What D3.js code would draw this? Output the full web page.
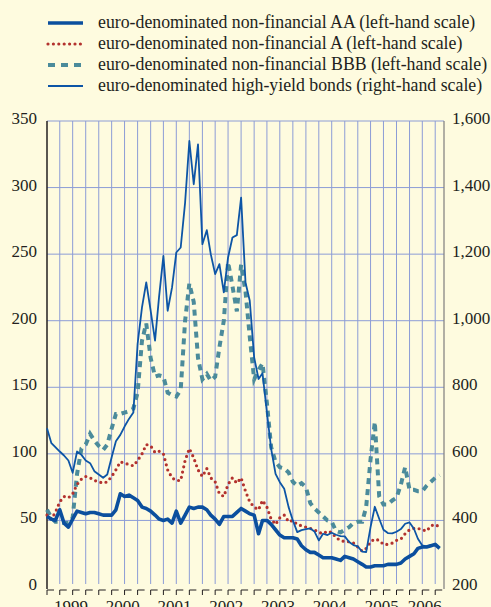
<!DOCTYPE html>
<html>
<head>
<meta charset="utf-8">
<script src="https://cdn.jsdelivr.net/npm/d3@7"></script>
<style>
  html, body { margin: 0; padding: 0; background: #fefbdf; }
  svg { display: block; }
</style>
</head>
<body>
<svg id="chart" width="491" height="607"></svg>
<script>
// monthly observations, Jan 1999 .. Aug 2006
const startYear = 1999;

// euro-denominated non-financial AA (left-hand scale)
const aa = [53,51,50,58,48,45,51,57,56,55,56,56,
            55,54,54,54,58,70,68,69,67,65,60,59,
            57,54,51,50,51,48,57,48,54,60,59,60,
            60,58,54,51,47,53,53,53,56,59,57,55,
            54,40,50,50,47,43,39,37,37,37,36,31,
            28,26,26,24,22,22,22,21,20,23,22,21,
            19,17,15,15,16,16,16,17,17,17,18,21,
            23,25,29,30,30,31,32,29];

// euro-denominated non-financial A (left-hand scale)
const a = [54,51,56,64,68,67,70,77,81,83,82,80,
           79,78,79,83,88,94,93,92,91,95,100,107,
           106,101,102,100,88,82,80,80,95,104,97,88,
           83,89,82,79,70,68,77,82,78,82,72,64,
           60,58,65,60,51,47,52,54,49,50,47,46,
           45,44,43,41,40,42,41,37,35,34,34,33,
           30,27,29,34,36,35,32,32,33,35,36,40,
           43,44,44,43,42,46,47,45];

// euro-denominated non-financial BBB (left-hand scale)
const bbb = [58,52,49,49,48,48,52,85,104,107,115,110,
             106,103,107,119,130,130,131,132,134,146,185,198,
             172,158,159,158,146,144,143,148,200,228,214,172,
             156,160,155,158,180,200,244,226,207,242,222,188,
             156,163,168,138,105,94,90,89,86,79,76,78,
             75,63,59,56,53,50,49,42,41,43,45,48,
             49,49,60,96,124,68,62,62,65,67,77,90,
             73,73,72,72,76,79,82,84];

// euro-denominated high-yield bonds (right-hand scale)
const hy = [677,632,620,607,595,580,543,607,597,580,572,548,
            538,528,538,590,638,657,682,705,724,930,1040,1115,
            1030,940,1070,1195,1030,1100,1205,1220,1355,1540,1410,1530,
            1230,1272,1200,1140,1170,1085,1190,1250,1257,1370,1115,1060,
            890,825,842,725,615,540,515,495,440,400,365,371,
            374,376,367,340,360,356,363,357,353,352,335,326,
            322,306,305,380,441,405,372,362,361,366,374,390,
            394,375,345,325,322,326,328,318];

const leftTicks = [0,50,100,150,200,250,300,350];
const rightTicks = [200,400,600,800,1000,1200,1400,1600];
const years = [1999,2000,2001,2002,2003,2004,2005,2006];

const legendLabels = [
  "euro-denominated non-financial AA (left-hand scale)",
  "euro-denominated non-financial A (left-hand scale)",
  "euro-denominated non-financial BBB (left-hand scale)",
  "euro-denominated high-yield bonds (right-hand scale)"
];

const FONT = "'Liberation Serif', 'DejaVu Serif', serif";
const INK = "#231f20";

const svg = d3.select("#chart")
  .attr("font-family", FONT);
const L = 47, R = 444, T = 121, B = 587;

const x = d3.scaleTime()
  .domain([new Date(1999,0,1), new Date(2006,8,1)])
  .range([L, R]);
const yL = d3.scaleLinear().domain([0,350]).range([B, T]);
const yR = d3.scaleLinear().domain([200,1600]).range([B, T]);

const dates = aa.map((d,i) => new Date(startYear, i, 1));

// grid
const grid = svg.append("g");
const quarters = d3.timeMonth.every(3).range(new Date(1999,0,1), new Date(2006,8,2));
grid.selectAll("line.v").data(quarters.slice(1)).join("line")
  .attr("x1", d => x(d)).attr("x2", d => x(d))
  .attr("y1", T).attr("y2", B - 3)
  .attr("stroke", "#8c9cd6").attr("stroke-width", 1);
grid.selectAll("line.h").data(leftTicks.filter(d => d > 0)).join("line")
  .attr("x1", L).attr("x2", R)
  .attr("y1", d => yL(d)).attr("y2", d => yL(d))
  .attr("stroke", "#8c9cd6").attr("stroke-width", 1);

// axes lines
svg.append("line").attr("x1", L).attr("x2", L).attr("y1", T).attr("y2", B + 2)
  .attr("stroke", INK).attr("stroke-width", 1.5);
svg.append("line").attr("x1", R).attr("x2", R).attr("y1", T).attr("y2", B + 2)
  .attr("stroke", "#7d7d7d").attr("stroke-width", 1.2);

// bottom quarter ticks
svg.append("g").selectAll("path").data(quarters.filter(d => x(d) < R - 2)).join("path")
  .attr("d", d => `M${x(d)},${B + 8}V${B + 3}H${x(d) + 7}`)
  .attr("fill", "none").attr("stroke", INK).attr("stroke-width", 1);

// tick labels
svg.append("g").selectAll("text").data(leftTicks).join("text")
  .attr("x", 37).attr("y", d => yL(d) + 3)
  .attr("text-anchor", "end").attr("font-size", 17).attr("fill", INK)
  .text(d => d);
svg.append("g").selectAll("text").data(rightTicks).join("text")
  .attr("x", 452).attr("y", d => yR(d) + 3)
  .attr("font-size", 17).attr("fill", INK)
  .text(d => d3.format(",")(d));
svg.append("g").selectAll("text").data(years).join("text")
  .attr("x", d => (Math.max(L, x(new Date(d,0,1))) + Math.min(R, x(new Date(d+1,0,1)))) / 2 - 2)
  .attr("y", 612)
  .attr("text-anchor", "middle").attr("font-size", 17).attr("fill", INK)
  .text(d => d);

// series
const lineL = d3.line().x((d,i) => x(dates[i])).y(d => yL(d));
const lineR = d3.line().x((d,i) => x(dates[i])).y(d => yR(d));

const styles = [
  {stroke: "#0b4f9e", width: 3.6, dash: null, cap: "butt"},
  {stroke: "#b3322e", width: 3.2, dash: "0,5.4", cap: "round"},
  {stroke: "#4b8b9b", width: 4, dash: "6,5", cap: "butt"},
  {stroke: "#0d55a6", width: 1.8, dash: null, cap: "butt"}
];

const plot = svg.append("g");
plot.append("path").datum(bbb).attr("d", lineL)
  .attr("fill", "none").attr("stroke", styles[2].stroke).attr("stroke-width", styles[2].width)
  .attr("stroke-dasharray", styles[2].dash);
plot.append("path").datum(a).attr("d", lineL)
  .attr("fill", "none").attr("stroke", styles[1].stroke).attr("stroke-width", styles[1].width)
  .attr("stroke-dasharray", styles[1].dash).attr("stroke-linecap", "round");
plot.append("path").datum(hy).attr("d", lineR)
  .attr("fill", "none").attr("stroke", styles[3].stroke).attr("stroke-width", styles[3].width)
  .attr("stroke-linejoin", "round");
plot.append("path").datum(aa).attr("d", lineL)
  .attr("fill", "none").attr("stroke", styles[0].stroke).attr("stroke-width", styles[0].width)
  .attr("stroke-linejoin", "round");

// legend
const leg = svg.append("g");
legendLabels.forEach((lab, i) => {
  const yy = 23 + i * 21;
  const s = styles[i];
  leg.append("line").attr("x1", 48).attr("x2", 83).attr("y1", yy).attr("y2", yy)
    .attr("stroke", s.stroke).attr("stroke-width", i === 3 ? 2 : s.width)
    .attr("stroke-dasharray", i === 2 ? "7,6" : s.dash).attr("stroke-linecap", s.cap);
  leg.append("text").attr("x", 98).attr("y", yy + 5).attr("font-size", 17.8)
    .attr("fill", INK).text(lab);
});
</script>
</body>
</html>
